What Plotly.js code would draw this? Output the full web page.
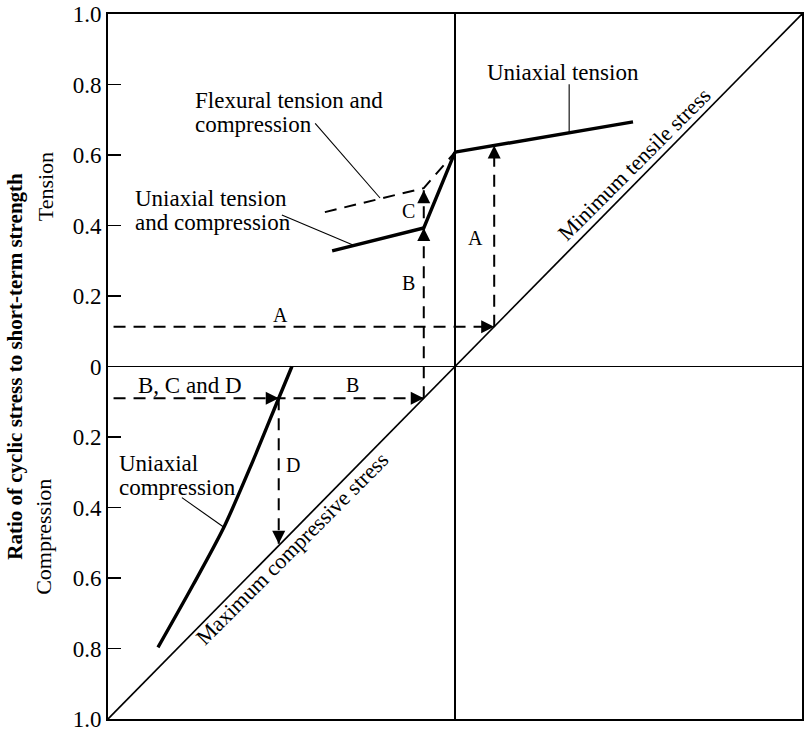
<!DOCTYPE html>
<html><head><meta charset="utf-8">
<script src="https://cdn.plot.ly/plotly-3.0.1.min.js"></script>
<style>html,body{margin:0;padding:0;background:#fff}</style>
</head><body><div id="chart" style="width:804px;height:732px"></div>
<script>
// ---- data (ratio of cyclic stress to short-term strength; compression negative) ----
const diagX = [-1, 1];
const diagY = [-1, 1];
const uniTensionX = [0, 0.513];
const uniTensionY = [0.608, 0.694];
const uniTenCompX = [-0.354, -0.09, 0];
const uniTenCompY = [0.328, 0.393, 0.608];
const flexuralX = [-0.375, -0.09, 0];
const flexuralY = [0.438, 0.506, 0.608];
const uniCompX = [-0.47, -0.508, -0.585, -0.666, -0.755, -0.856];
const uniCompY = [0, -0.09, -0.274, -0.456, -0.620, -0.797];
// construction paths A, B, C, D
const pathAhX = [-0.984, 0.113], pathAhY = [0.113, 0.113];
const pathAvX = [0.113, 0.113], pathAvY = [0.113, 0.627];
const pathBhX = [-0.984, -0.09], pathBhY = [-0.09, -0.09];
const pathBvX = [-0.09, -0.09], pathBvY = [-0.09, 0.50];
const pathDvX = [-0.508, -0.508], pathDvY = [-0.09, -0.503];
// arrow tips and tails
const arrowTipX  = [0.113, 0.113, -0.508, -0.09, -0.09, -0.09, -0.508];
const arrowTipY  = [0.113, 0.627, -0.09, -0.09, 0.393, 0.50, -0.503];
const arrowTailX = [0.083, 0.113, -0.538, -0.12, -0.09, -0.09, -0.508];
const arrowTailY = [0.113, 0.597, -0.09, -0.09, 0.363, 0.47, -0.473];
// leader lines
const leadTenX = [0.329, 0.329], leadTenY = [0.801, 0.665];
const leadFlexX = [-0.403, -0.216], leadFlexY = [0.690, 0.478];
const leadUtcX = [-0.499, -0.294], leadUtcY = [0.430, 0.345];
const leadUcX = [-0.787, -0.666], leadUcY = [-0.372, -0.456];
// tick labels
const tickVals = [-1, -0.8, -0.6, -0.4, -0.2, 0, 0.2, 0.4, 0.6, 0.8, 1];
const tickText = ['1.0', '0.8', '0.6', '0.4', '0.2', '0', '0.2', '0.4', '0.6', '0.8', '1.0'];

const FONT = 'Liberation Serif, Times New Roman, serif';
function line(x, y, w, dash, shape) {
  const ln = {color: '#000', width: w, dash: dash || 'solid'};
  if (shape) { ln.shape = shape; ln.smoothing = 0.8; }
  return {x: x, y: y, mode: 'lines', type: 'scatter', hoverinfo: 'skip', line: ln};
}
const DASH = '12px,8px';
const traces = [
  line(diagX, diagY, 1.7),
  line(uniTensionX, uniTensionY, 3.4),
  line(uniTenCompX, uniTenCompY, 3.4),
  line(flexuralX, flexuralY, 2, DASH),
  line(uniCompX, uniCompY, 3.4, null, 'spline'),
  line(pathAhX, pathAhY, 2, DASH),
  line(pathAvX, pathAvY, 2, DASH),
  line(pathBhX, pathBhY, 2, DASH),
  line(pathBvX, pathBvY, 2, DASH),
  line(pathDvX, pathDvY, 2, DASH),
  line(leadTenX, leadTenY, 1.1),
  line(leadFlexX, leadFlexY, 1.1),
  line(leadUtcX, leadUtcY, 1.1),
  line(leadUcX, leadUcY, 1.1)
];

const annotations = [];
for (let i = 0; i < arrowTipX.length; i++) {
  annotations.push({x: arrowTipX[i], y: arrowTipY[i], ax: arrowTailX[i], ay: arrowTailY[i],
    xref: 'x', yref: 'y', axref: 'x', ayref: 'y', text: '', showarrow: true,
    arrowhead: 2, arrowsize: 2.6, arrowwidth: 1, arrowcolor: '#000', standoff: 0, startstandoff: 0});
}
function label(text, x, y, size, xanchor, angle) {
  annotations.push({text: text, x: x, y: y, xref: 'x', yref: 'y', showarrow: false,
    xanchor: xanchor || 'center', yanchor: 'middle', textangle: angle || 0,
    font: {family: FONT, size: size, color: '#000'}});
}
label('Uniaxial tension', 0.311, 0.833, 23);
label('Flexural tension and', -0.755, 0.754, 23, 'left');
label('compression', -0.755, 0.686, 23, 'left');
label('Uniaxial tension', -0.928, 0.477, 23, 'left');
label('and compression', -0.928, 0.409, 23, 'left');
label('Uniaxial', -0.974, -0.274, 23, 'left');
label('compression', -0.974, -0.342, 23, 'left');
label('B, C and D', -0.764, -0.055, 23);
label('A', -0.504, 0.146, 20);
label('A', 0.058, 0.365, 20);
label('B', -0.133, 0.237, 20);
label('B', -0.294, -0.052, 20);
label('C', -0.135, 0.441, 20);
label('D', -0.467, -0.279, 20);
label('Minimum tensile stress', 0.516, 0.572, 22, 'center', -45);
label('Maximum compressive stress', -0.470, -0.515, 22, 'center', -45);
annotations.push({text: 'Tension', xref: 'paper', yref: 'paper', x: -0.09, y: 0.755,
  xanchor: 'center', yanchor: 'middle', textangle: -90, showarrow: false,
  font: {family: FONT, size: 22, color: '#000'}});
annotations.push({text: 'Compression', xref: 'paper', yref: 'paper', x: -0.094, y: 0.258,
  xanchor: 'center', yanchor: 'middle', textangle: -90, showarrow: false,
  font: {family: FONT, size: 22, color: '#000'}});

const layout = {
  width: 804, height: 732,
  margin: {l: 108, r: 2, t: 14, b: 13},
  paper_bgcolor: '#fff', plot_bgcolor: '#fff',
  showlegend: false,
  font: {family: FONT, color: '#000'},
  xaxis: {range: [-1, 1], showgrid: false, showticklabels: false, ticks: '',
    zeroline: true, zerolinecolor: '#000', zerolinewidth: 1.5,
    showline: true, linecolor: '#000', linewidth: 2, mirror: true, fixedrange: true},
  yaxis: {range: [-1, 1], showgrid: false, tickmode: 'array', tickvals: tickVals, ticktext: tickText,
    ticks: 'inside', ticklen: 13, tickwidth: 1.5, tickcolor: '#000', ticklabeloverflow: 'allow',
    tickfont: {family: FONT, size: 23, color: '#000'},
    zeroline: true, zerolinecolor: '#000', zerolinewidth: 1.5,
    showline: true, linecolor: '#000', linewidth: 2, mirror: true, fixedrange: true,
    title: {text: '<b>Ratio of cyclic stress to short-term strength</b>', standoff: 44,
      font: {family: FONT, size: 21, color: '#000'}}},
  annotations: annotations
};
Plotly.newPlot('chart', traces, layout, {staticPlot: true, displayModeBar: false});
</script></body></html>
